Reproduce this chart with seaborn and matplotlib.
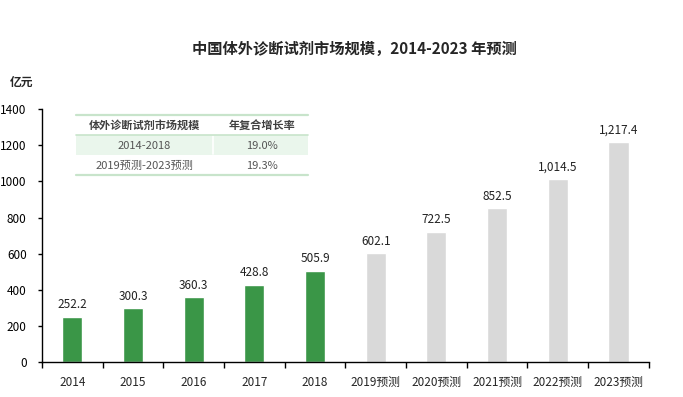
import matplotlib
matplotlib.use("Agg")
import matplotlib.pyplot as plt
import seaborn as sns
import pandas as pd
from matplotlib.ticker import FixedLocator

sns.set_style("white")

plt.rcParams['font.family'] = ['Noto Sans CJK SC', 'DejaVu Sans']

years = ["2014", "2015", "2016", "2017", "2018",
         "2019预测", "2020预测", "2021预测", "2022预测", "2023预测"]
market_size = [252.2, 300.3, 360.3, 428.8, 505.9, 602.1, 722.5, 852.5, 1014.5, 1217.4]
kind = ["实际"] * 5 + ["预测"] * 5
bar_colors = {"实际": "#3a9647", "预测": "#d9d9d9"}

table_header = ["体外诊断试剂市场规模", "年复合增长率"]
table_periods = ["2014-2018", "2019预测-2023预测"]
table_cagr = ["19.0%", "19.3%"]

df = pd.DataFrame({"年份": years, "规模": market_size, "类型": kind})

fig = plt.figure(figsize=(6.83, 3.97), dpi=100)
ax = fig.add_axes([0.0615, 0.087, 0.8885, 0.6384])

sns.barplot(data=df, x="年份", y="规模", hue="类型", palette=bar_colors,
            width=0.33, dodge=False, legend=False, saturation=1, ax=ax)

for cont in ax.containers:
    ax.bar_label(cont, labels=[f"{v:,.1f}" for v in cont.datavalues],
                 padding=4, fontsize=8.5, color="#222222")

ax.set_xlim(-0.5, len(years) - 0.5)
ax.set_ylim(0, 1400)
ax.set_yticks(range(0, 1401, 200))
ax.set_xlabel("")
ax.set_ylabel("")
sns.despine(ax=ax)
for s in ["left", "bottom"]:
    ax.spines[s].set_color("#000000")
    ax.spines[s].set_linewidth(1.0)

ax.tick_params(axis="y", which="major", length=3, width=1, direction="out",
               labelsize=8.5, pad=8, left=True, colors="#000000")
ax.tick_params(axis="x", which="major", length=0, labelsize=8.5, pad=10)
ax.xaxis.set_minor_locator(FixedLocator([i - 0.5 for i in range(len(years) + 1)]))
ax.tick_params(axis="x", which="minor", length=4, width=1, direction="out",
               bottom=True, color="#000000")

fig.text(0.519, 0.877, "中国体外诊断试剂市场规模，2014-2023 年预测",
         ha="center", va="center", fontsize=11, fontweight="bold")
fig.text(0.032, 0.793, "亿元", ha="center", va="center", fontsize=8.5, fontweight="bold")

# CAGR table
W, H = 683, 397
def fx(px):
    return px / W
def fy(py):
    return 1 - py / H

x0, x1, xmid = 76, 308, 213
line_color = "#c8e4cb"
fig.add_artist(plt.Rectangle((fx(x0), fy(155)), fx(x1) - fx(x0), fy(135) - fy(155),
                             transform=fig.transFigure, color="#eaf6ec", lw=0, zorder=0.5))
fig.add_artist(plt.Line2D([fx(xmid), fx(xmid)], [fy(136), fy(154)],
                          transform=fig.transFigure, color="white", lw=1.2))
for py, lw in [(115, 1.6), (135, 1.2), (175, 1.6)]:
    fig.add_artist(plt.Line2D([fx(x0), fx(x1)], [fy(py), fy(py)],
                              transform=fig.transFigure, color=line_color, lw=lw))

col_x = [144, 262]
fig.text(fx(col_x[0]), fy(125), table_header[0], ha="center", va="center",
         fontsize=8, fontweight="bold", color="#404040")
fig.text(fx(col_x[1]), fy(125), table_header[1], ha="center", va="center",
         fontsize=8, fontweight="bold", color="#404040")
for i, (p, c) in enumerate(zip(table_periods, table_cagr)):
    py = 145.5 + i * 20
    fig.text(fx(col_x[0]), fy(py), p, ha="center", va="center", fontsize=8, color="#555555")
    fig.text(fx(col_x[1]), fy(py), c, ha="center", va="center", fontsize=8, color="#555555")

fig.savefig("out.png", dpi=100)
